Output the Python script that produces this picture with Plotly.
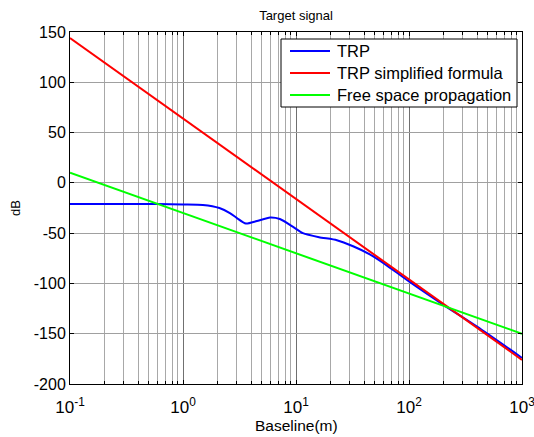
import plotly.graph_objects as go

# ---- data ----
trp_x = [0.1, 0.3, 0.6, 1.0, 1.5, 2.1, 2.6, 3.0, 3.6, 4.5, 5.9, 7.2, 9.5, 11.5, 16, 23, 32, 45, 60, 100, 200, 400, 1000]
trp_y = [-21, -21, -21, -21.5, -22, -25, -30, -35, -40.5, -38, -34.5, -36, -44, -50, -54, -57, -63, -71, -80, -98, -121, -143, -174]

simp_x = [0.1, 1, 10, 100, 1000]
simp_y = [144, 64, -16, -96, -176]

free_x = [0.1, 1, 10, 100, 1000]
free_y = [10, -30, -70, -110, -150]

series_names = ["TRP", "TRP simplified formula", "Free space propagation"]
series_colors = ["#0000ff", "#ff0000", "#00ff00"]

decades = [0.1, 1, 10, 100, 1000]
decade_labels = ["10<sup>-1</sup>", "10<sup>0</sup>", "10<sup>1</sup>", "10<sup>2</sup>", "10<sup>3</sup>"]
y_ticks = [-200, -150, -100, -50, 0, 50, 100, 150]
y_labels = ["-200", "-150", "-100", "-50", "0", "50", "100", "150"]

minor_vals = [d * k for d in decades[:-1] for k in range(2, 10)]

FONT = "Liberation Sans, Arial, sans-serif"

fig = go.Figure()
for xs, ys, name, col, smooth in [(trp_x, trp_y, series_names[0], series_colors[0], True),
                                  (simp_x, simp_y, series_names[1], series_colors[1], False),
                                  (free_x, free_y, series_names[2], series_colors[2], False)]:
    line = dict(color=col, width=2)
    if smooth:
        line.update(shape="spline", smoothing=0.6)
    fig.add_trace(go.Scatter(x=xs, y=ys, mode="lines", name=name, line=line, showlegend=False))

# ---- custom legend (MATLAB style box) ----
L, R, T, B = 70, 522, 32, 384
def px(xp):
    return (xp - L) / (R - L)
def py(yp):
    return (B - yp) / (B - T)

fig.add_shape(type="rect", xref="paper", yref="paper",
              x0=px(281), x1=px(517), y0=py(107), y1=py(39),
              line=dict(color="black", width=1), fillcolor="white", layer="above")
row_y = [51, 73, 95]
for name, col, ry in zip(series_names, series_colors, row_y):
    fig.add_shape(type="line", xref="paper", yref="paper",
                  x0=px(290), x1=px(330), y0=py(ry), y1=py(ry),
                  line=dict(color=col, width=2), layer="above")
    fig.add_annotation(xref="paper", yref="paper", x=px(335), y=py(ry),
                       xanchor="left", yanchor="middle", text=name, showarrow=False,
                       font=dict(size=16.5, family=FONT, color="black"))

# axis titles as annotations for exact placement
fig.add_annotation(xref="paper", yref="paper", x=px(296), y=py(425),
                   xanchor="center", yanchor="middle", text="Baseline(m)", showarrow=False,
                   font=dict(size=15.5, family=FONT, color="black"))
fig.add_annotation(xref="paper", yref="paper", x=px(15), y=py(208),
                   xanchor="center", yanchor="middle", text="dB", textangle=-90, showarrow=False,
                   font=dict(size=13, family=FONT, color="black"))

fig.update_layout(
    width=534, height=437,
    margin=dict(l=L, r=534 - R, t=T, b=437 - B),
    paper_bgcolor="white", plot_bgcolor="white",
    font=dict(family=FONT, size=15, color="black"),
    title=dict(text="Target signal", x=296 / 534, xanchor="center", y=1 - 15 / 437, yanchor="middle",
               font=dict(size=13, family=FONT)),
    showlegend=False,
)

fig.update_xaxes(
    type="log", range=[-1, 3], automargin=False,
    tickmode="array", tickvals=decades, ticktext=decade_labels,
    ticks="inside", ticklen=4, tickcolor="black",
    showline=True, linecolor="black", linewidth=1, mirror="ticks",
    showgrid=True, gridcolor="#707070", gridwidth=1,
    minor=dict(tickmode="array", tickvals=minor_vals, showgrid=True,
               gridcolor="#a8a8a8", gridwidth=1, ticks="inside", ticklen=3, tickcolor="black"),
    zeroline=False,
    tickfont=dict(size=17),
    ticklabelstandoff=8,
    ticklabeloverflow="allow",
)
fig.update_yaxes(
    range=[-200, 150], automargin=False,
    tickmode="array", tickvals=y_ticks, ticktext=y_labels,
    ticks="inside", ticklen=4, tickcolor="black",
    showline=True, linecolor="black", linewidth=1, mirror="ticks",
    showgrid=True, gridcolor="#a0a0a0", gridwidth=1,
    zeroline=False,
    tickfont=dict(size=16),
    ticklabeloverflow="allow",
)

fig.write_html("out.html")
